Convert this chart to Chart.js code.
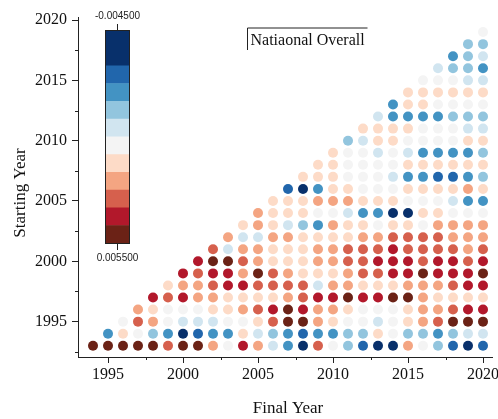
<!DOCTYPE html>
<html>
<head>
<meta charset="utf-8">
<script src="https://cdn.jsdelivr.net/npm/chart.js@4.4.1/dist/chart.umd.min.js"></script>
<style>
  html, body { margin: 0; padding: 0; background: #ffffff; }
  #wrap { width: 498px; height: 419px; overflow: hidden; position: relative; }
  canvas { display: block; }
</style>
</head>
<body>
<div id="wrap"><canvas id="c" width="520" height="419"></canvas></div>
<script>
// Trend of the national series for every (starting year, final year) window.
// Each row lists the trend for final years startYear+1 ... 2020.
const startYears = [1993,1994,1995,1996,1997,1998,1999,2000,2001,2002,2003,2004,2005,2006,
                    2007,2008,2009,2010,2011,2012,2013,2014,2015,2016,2017,2018,2019];
const lastYear = 2020;

const t1993 = [0.0051,0.0051,0.0051,0.0051,0.0051,0.0034,0.0051,0.0051,0.0026,0.0009,0.0042,0.0026,0.0001,-0.0016,-0.0039,0.0034,0.0009,-0.0008,-0.0024,-0.0039,-0.0039,0.0026,0.0009,-0.0008,-0.0024,-0.0039,-0.0024];
const t1994 = [-0.0016,0.0018,0.0009,-0.0008,-0.0016,-0.0039,-0.0024,-0.0016,-0.0016,0.0018,0.0001,-0.0008,-0.0016,-0.0024,-0.0016,-0.0016,-0.0008,-0.0008,0.0018,0.0009,-0.0008,-0.0008,-0.0016,-0.0008,0.0001,0.0001];
const t1995 = [0.0009,0.0034,0.0026,0.0009,0.0001,0.0001,0.0001,0.0009,0.0009,0.0018,0.0034,0.0051,0.0051,0.0026,0.0018,0.0009,0.0009,0.0001,0.0009,0.0018,0.0026,0.0034,0.0051,0.0051,0.0051];
const t1996 = [0.0026,0.0018,0.0009,0.0009,0.0009,0.0018,0.0018,0.0026,0.0034,0.0042,0.0051,0.0042,0.0026,0.0026,0.0018,0.0009,0.0009,0.0009,0.0018,0.0026,0.0026,0.0034,0.0042,0.0042];
const t1997 = [0.0042,0.0034,0.0042,0.0026,0.0026,0.0018,0.0018,0.0018,0.0018,0.0026,0.0034,0.0042,0.0042,0.0051,0.0042,0.0042,0.0051,0.0051,0.0026,0.0018,0.0018,0.0018,0.0018];
const t1998 = [0.0018,0.0026,0.0026,0.0034,0.0042,0.0042,0.0034,0.0034,0.0034,0.0034,0.0001,0.0026,0.0026,0.0018,0.0018,0.0018,0.0026,0.0026,0.0026,0.0034,0.0042,0.0042];
const t1999 = [0.0042,0.0034,0.0042,0.0042,0.0026,0.0051,0.0034,0.0026,0.0018,0.0018,0.0018,0.0026,0.0034,0.0034,0.0042,0.0042,0.0051,0.0042,0.0042,0.0042,0.0051];
const t2000 = [0.0042,0.0051,0.0051,0.0034,0.0026,0.0018,0.0018,0.0018,0.0026,0.0026,0.0034,0.0034,0.0042,0.0042,0.0042,0.0034,0.0042,0.0042,0.0034,0.0042];
const t2001 = [0.0034,0.0001,0.0026,0.0026,0.0018,0.0018,0.0018,0.0026,0.0026,0.0034,0.0034,0.0034,0.0042,0.0034,0.0034,0.0034,0.0034,0.0026,0.0034];
const t2002 = [0.0026,0.0001,0.0001,0.0026,0.0026,0.0018,0.0018,0.0018,0.0018,0.0026,0.0026,0.0034,0.0034,0.0034,0.0034,0.0026,0.0026,0.0026];
const t2003 = [0.0018,0.0026,0.0018,0.0001,-0.0008,-0.0016,0.0026,0.0018,0.0018,0.0009,0.0018,0.0018,0.0009,0.0026,0.0026,0.0026,0.0026];
const t2004 = [0.0026,0.0018,0.0018,0.0018,0.0009,0.0009,0.0001,-0.0016,-0.0016,-0.0039,-0.0039,0.0018,0.0018,0.0009,0.0009,0.0009];
const t2005 = [0.0018,0.0018,0.0018,0.0026,0.0026,0.0026,0.0018,0.0018,0.0018,0.0009,0.0009,0.0009,0.0001,-0.0016,-0.0016];
const t2006 = [-0.0024,-0.0039,-0.0016,0.0018,0.0018,0.0009,0.0009,0.0009,0.0018,0.0018,0.0018,0.0018,0.0026,0.0018];
const t2007 = [0.0018,0.0018,0.0018,0.0009,0.0009,0.0009,0.0001,-0.0016,-0.0016,-0.0024,-0.0024,-0.0016,-0.0008];
const t2008 = [0.0018,0.0018,0.0009,0.0009,0.0009,0.0009,0.0018,0.0018,0.0018,0.0018,0.0018,0.0018];
const t2009 = [0.0018,0.0009,0.0009,0.0001,0.0009,0.0001,-0.0016,-0.0016,-0.0016,-0.0016,-0.0008];
const t2010 = [-0.0008,0.0001,0.0018,0.0018,0.0009,0.0009,0.0009,0.0009,0.0018,0.0018];
const t2011 = [0.0018,0.0018,0.0018,0.0018,0.0009,0.0009,0.0009,0.0001,0.0001];
const t2012 = [0.0001,-0.0016,-0.0016,-0.0016,-0.0016,-0.0008,-0.0008,-0.0008];
const t2013 = [-0.0016,0.0018,0.0018,0.0009,0.0009,0.0009,0.0009];
const t2014 = [0.0018,0.0018,0.0018,0.0018,0.0018,0.0018];
const t2015 = [0.0009,0.0009,0.0009,0.0001,0.0001];
const t2016 = [0.0001,-0.0008,-0.0008,-0.0016];
const t2017 = [-0.0016,-0.0008,0.0001];
const t2018 = [-0.0008,-0.0008];
const t2019 = [0.0009];

const trendRows = [t1993,t1994,t1995,t1996,t1997,t1998,t1999,t2000,t2001,t2002,t2003,t2004,t2005,t2006,
                   t2007,t2008,t2009,t2010,t2011,t2012,t2013,t2014,t2015,t2016,t2017,t2018,t2019];

// Colour scale (top of the colour bar = most negative trend)
const colorRange = [-0.0045, 0.0055];
const colorSteps = ['#08306b','#08306b','#2166ac','#4393c3','#92c5de','#d1e5f0',
                    '#f4f4f4','#fddbc7','#f4a582','#d6604d','#b2182b','#6b2216'];

const xTickValues = [1995, 2000, 2005, 2010, 2015, 2020];
const yTickValues = [1995, 2000, 2005, 2010, 2015, 2020];

const titleText = 'Natiaonal Overall';
const xTitle = 'Final Year';
const yTitle = 'Starting Year';

const SERIF = "'Liberation Serif', 'Times New Roman', Times, serif";
const SANS = "'Liberation Sans', Arial, Helvetica, sans-serif";

function colorFor(v) {
  const n = colorSteps.length;
  const step = (colorRange[1] - colorRange[0]) / n;
  let i = Math.floor((v - colorRange[0]) / step + 1e-9);
  i = Math.max(0, Math.min(n - 1, i));
  return colorSteps[i];
}

const points = [];
startYears.forEach((s, r) => {
  trendRows[r].forEach((v, i) => {
    points.push({ x: s + 1 + i, y: s, v: v });
  });
});

const decorations = {
  id: 'decorations',
  afterDraw(chart) {
    const { ctx, chartArea, scales: { x, y } } = chart;
    ctx.save();
    ctx.strokeStyle = '#222';
    ctx.lineWidth = 1;

    // minor ticks half-way between the labelled ones
    ctx.beginPath();
    for (let v = xTickValues[0] - 2.5; v <= x.max; v += 5) {
      if (v < x.min) continue;
      const px = Math.round(x.getPixelForValue(v)) + 0.5;
      ctx.moveTo(px, chartArea.bottom);
      ctx.lineTo(px, chartArea.bottom + 3);
    }
    for (let v = yTickValues[0] - 2.5; v <= y.max; v += 5) {
      if (v < y.min) continue;
      const py = Math.round(y.getPixelForValue(v)) + 0.5;
      ctx.moveTo(chartArea.left - 3, py);
      ctx.lineTo(chartArea.left, py);
    }
    ctx.stroke();

    // axis titles
    ctx.fillStyle = '#111';
    ctx.font = '17px ' + SERIF;
    ctx.textAlign = 'center';
    ctx.textBaseline = 'alphabetic';
    ctx.fillText(xTitle, (chartArea.left + chartArea.right) / 2 + 3, 413);
    ctx.save();
    ctx.translate(25, (chartArea.top + chartArea.bottom) / 2 + 6);
    ctx.rotate(-Math.PI / 2);
    ctx.fillText(yTitle, 0, 0);
    ctx.restore();

    // title with its top and left frame lines
    const tx = chartArea.left + 169.5, ty = chartArea.top + 11;
    ctx.beginPath();
    ctx.moveTo(tx, ty + 22);
    ctx.lineTo(tx, ty);
    ctx.lineTo(tx + 120, ty);
    ctx.stroke();
    ctx.font = '16px ' + SERIF;
    ctx.textAlign = 'left';
    ctx.fillText(titleText, tx + 3, ty + 17);

    // colour bar
    const bx = chartArea.left + 27, bw = 24;
    const by = chartArea.top + 13, bh = 213;
    const seg = bh / colorSteps.length;
    colorSteps.forEach((c, i) => {
      ctx.fillStyle = c;
      ctx.fillRect(bx, by + i * seg, bw, seg + 0.5);
    });
    ctx.strokeStyle = '#222';
    ctx.strokeRect(bx + 0.5, by + 0.5, bw, bh);
    const cx = Math.round(bx + bw / 2) + 0.5;
    ctx.beginPath();
    ctx.moveTo(cx, by - 6); ctx.lineTo(cx, by);
    ctx.moveTo(cx, by + bh); ctx.lineTo(cx, by + bh + 7);
    ctx.stroke();
    ctx.fillStyle = '#222';
    ctx.font = '10px ' + SANS;
    ctx.textAlign = 'center';
    ctx.textBaseline = 'middle';
    ctx.fillText(colorRange[0].toFixed(6), cx, by - 14);
    ctx.fillText(colorRange[1].toFixed(6), cx, by + bh + 15);
    ctx.restore();
  }
};

new Chart(document.getElementById('c'), {
  type: 'scatter',
  data: {
    datasets: [{
      data: points,
      pointRadius: 5,
      pointHoverRadius: 5,
      pointBorderWidth: 0,
      pointBackgroundColor: ctx => colorFor(ctx.raw.v),
      showLine: false
    }]
  },
  options: {
    responsive: false,
    animation: false,
    events: [],
    layout: { padding: { left: 0, top: 17, right: 28, bottom: 32 } },
    plugins: { legend: { display: false }, tooltip: { enabled: false } },
    scales: {
      x: {
        type: 'linear', min: 1993, max: 2020.6,
        afterFit(s) { s.height = 30; },
        afterBuildTicks(s) { s.ticks = xTickValues.map(v => ({ value: v })); },
        ticks: { font: { family: SERIF, size: 16 }, color: '#111', padding: 2, maxRotation: 0, autoSkip: false,
                 callback: v => String(v) },
        grid: { drawOnChartArea: false, drawTicks: true, tickLength: 6, tickColor: '#222', tickWidth: 1 },
        border: { display: true, color: '#222', width: 1 }
      },
      y: {
        type: 'linear', min: 1992.07, max: 2020.25,
        afterFit(s) { s.width = 78; },
        afterBuildTicks(s) { s.ticks = yTickValues.map(v => ({ value: v })); },
        ticks: { font: { family: SERIF, size: 16 }, color: '#111', padding: 5, autoSkip: false,
                 callback: v => String(v) },
        grid: { drawOnChartArea: false, drawTicks: true, tickLength: 6, tickColor: '#222', tickWidth: 1 },
        border: { display: true, color: '#222', width: 1 }
      }
    }
  },
  plugins: [decorations]
});
</script>
</body>
</html>
